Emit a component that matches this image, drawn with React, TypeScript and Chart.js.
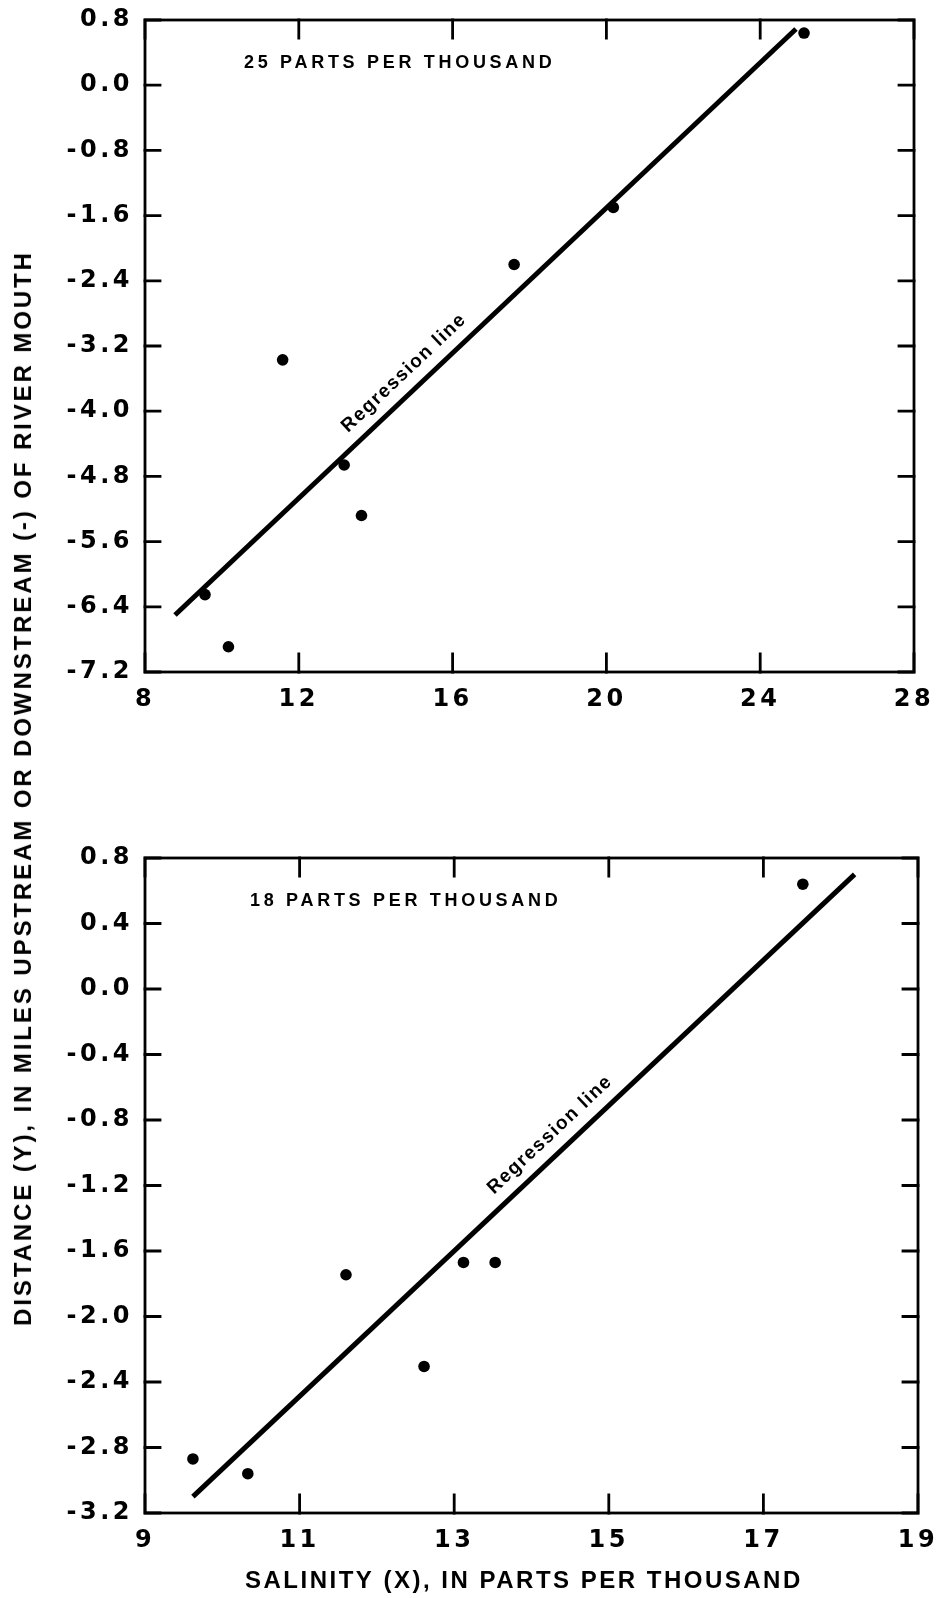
import React, { useEffect, useRef } from "react";
import { Chart, registerables } from "chart.js";

Chart.register(...registerables);

// ---- data: upper panel (25 parts per thousand) ----
const topSalinity = [25.14, 20.18, 17.6, 11.58, 13.18, 13.63, 9.56, 10.17];
const topDistance = [0.64, -1.5, -2.2, -3.37, -4.66, -5.28, -6.25, -6.89];
const topLineSalinity = [8.78, 24.93];
const topLineDistance = [-6.5, 0.69];
const topXTicks = [8, 12, 16, 20, 24, 28];
const topYTicks = [0.8, 0.0, -0.8, -1.6, -2.4, -3.2, -4.0, -4.8, -5.6, -6.4, -7.2];
const topTitle = "25 PARTS PER THOUSAND";
const topLabelAt = [14.74, -3.53];

// ---- data: lower panel (18 parts per thousand) ----
const bottomSalinity = [17.51, 11.6, 13.12, 13.53, 12.61, 9.62, 10.33];
const bottomDistance = [0.64, -1.745, -1.67, -1.67, -2.305, -2.87, -2.96];
const bottomLineSalinity = [9.62, 18.18];
const bottomLineDistance = [-3.1, 0.7];
const bottomXTicks = [9, 11, 13, 15, 17, 19];
const bottomYTicks = [0.8, 0.4, 0.0, -0.4, -0.8, -1.2, -1.6, -2.0, -2.4, -2.8, -3.2];
const bottomTitle = "18 PARTS PER THOUSAND";
const bottomLabelAt = [14.24, -0.89];

const regressionLabel = "Regression line";
const xAxisTitle = "SALINITY (X), IN PARTS PER THOUSAND";
const yAxisTitle = "DISTANCE (Y), IN MILES UPSTREAM OR DOWNSTREAM (-) OF RIVER MOUTH";

const INK = "#000";
const TEXT_FAMILY = "'Liberation Sans', Arial, sans-serif";
const TICK_FAMILY = "'DejaVu Sans', sans-serif";
const TICK_SPACING = "3.5px";

type PanelOpts = {
  xs: number[];
  ys: number[];
  lineXs: number[];
  lineYs: number[];
  xTicks: number[];
  yTicks: number[];
  title: string;
  titleDx: number;
  labelAt: number[];
  padding: { top: number; right: number; left: number; bottom: number };
  xAxisHeight: number;
  showXTitle: boolean;
};

function fmtY(v: number) {
  const n = Math.abs(v) < 1e-9 ? 0 : v;
  return n.toFixed(1);
}

function clearPad(s: any) {
  s.paddingLeft = 0;
  s.paddingRight = 0;
  s.paddingTop = 0;
  s.paddingBottom = 0;
}

function makePlugin(o: PanelOpts) {
  return {
    id: "frameAndText",
    beforeLayout(chart: any) {
      chart.ctx.letterSpacing = TICK_SPACING;
    },
    beforeDraw(chart: any) {
      chart.ctx.letterSpacing = TICK_SPACING;
    },
    beforeDatasetsDraw(chart: any) {
      const { ctx, chartArea: a, scales } = chart;
      ctx.save();
      ctx.strokeStyle = INK;
      ctx.lineWidth = 2.8;
      ctx.lineCap = "square";
      ctx.strokeRect(a.left, a.top, a.right - a.left, a.bottom - a.top);
      ctx.beginPath();
      for (const t of scales.x.ticks) {
        const px = scales.x.getPixelForValue(t.value);
        ctx.moveTo(px, a.bottom);
        ctx.lineTo(px, a.bottom - 18);
        ctx.moveTo(px, a.top);
        ctx.lineTo(px, a.top + 18);
      }
      for (const t of scales.y.ticks) {
        const py = scales.y.getPixelForValue(t.value);
        ctx.moveTo(a.left, py);
        ctx.lineTo(a.left + 15, py);
        ctx.moveTo(a.right, py);
        ctx.lineTo(a.right - 15, py);
      }
      ctx.stroke();
      ctx.restore();
    },
    afterDraw(chart: any) {
      const { ctx, chartArea: a, scales } = chart;
      ctx.save();
      ctx.fillStyle = INK;
      // panel title
      ctx.letterSpacing = "3.7px";
      ctx.font = `bold 18px ${TEXT_FAMILY}`;
      ctx.textAlign = "left";
      ctx.textBaseline = "alphabetic";
      ctx.fillText(o.title, a.left + o.titleDx, a.top + 48);
      // regression label, rotated along the line
      const x1 = scales.x.getPixelForValue(o.lineXs[0]);
      const y1 = scales.y.getPixelForValue(o.lineYs[0]);
      const x2 = scales.x.getPixelForValue(o.lineXs[1]);
      const y2 = scales.y.getPixelForValue(o.lineYs[1]);
      const ang = Math.atan2(y2 - y1, x2 - x1);
      const lx = scales.x.getPixelForValue(o.labelAt[0]);
      const ly = scales.y.getPixelForValue(o.labelAt[1]);
      ctx.translate(lx, ly);
      ctx.rotate(ang);
      ctx.letterSpacing = "1.5px";
      ctx.font = `bold 19px ${TEXT_FAMILY}`;
      ctx.textAlign = "center";
      ctx.textBaseline = "middle";
      ctx.fillText(regressionLabel, 0, 0);
      ctx.restore();
      if (o.showXTitle) {
        ctx.save();
        ctx.fillStyle = INK;
        ctx.letterSpacing = "2.5px";
        ctx.font = `bold 24px ${TEXT_FAMILY}`;
        ctx.textAlign = "left";
        ctx.textBaseline = "alphabetic";
        ctx.fillText(xAxisTitle, a.left + 100, a.bottom + 75);
        ctx.restore();
      }
    },
  };
}

function makeConfig(o: PanelOpts): any {
  const points = o.xs.map((x, i) => ({ x, y: o.ys[i] }));
  const line = o.lineXs.map((x, i) => ({ x, y: o.lineYs[i] }));
  return {
    type: "scatter",
    data: {
      datasets: [
        {
          label: "Regression line",
          data: line,
          showLine: true,
          borderColor: INK,
          borderWidth: 5,
          pointRadius: 0,
          borderCapStyle: "butt",
        },
        {
          label: "Observations",
          data: points,
          pointRadius: 5.8,
          pointBackgroundColor: INK,
          pointBorderWidth: 0,
          borderColor: INK,
        },
      ],
    },
    options: {
      responsive: false,
      animation: false,
      devicePixelRatio: 1,
      layout: { padding: o.padding },
      plugins: { legend: { display: false }, tooltip: { enabled: false } },
      scales: {
        x: {
          type: "linear",
          min: o.xTicks[0],
          max: o.xTicks[o.xTicks.length - 1],
          grid: { display: false, drawTicks: false },
          border: { display: false },
          afterBuildTicks: (s: any) => {
            s.ticks = o.xTicks.map((v) => ({ value: v }));
          },
          afterFit: (s: any) => {
            s.height = o.xAxisHeight;
            clearPad(s);
          },
          ticks: {
            autoSkip: false,
            maxRotation: 0,
            padding: 13,
            color: INK,
            font: { family: TICK_FAMILY, size: 24, weight: "bold" },
            callback: (v: any) => String(v),
          },
        },
        y: {
          type: "linear",
          min: o.yTicks[o.yTicks.length - 1],
          max: o.yTicks[0],
          grid: { display: false, drawTicks: false },
          border: { display: false },
          afterBuildTicks: (s: any) => {
            s.ticks = o.yTicks.slice().reverse().map((v) => ({ value: v }));
          },
          afterFit: (s: any) => {
            s.width = 145;
            clearPad(s);
          },
          ticks: {
            autoSkip: false,
            padding: 12,
            color: INK,
            font: { family: TICK_FAMILY, size: 24, weight: "bold" },
            callback: (v: any) => fmtY(Number(v)),
          },
        },
      },
    },
    plugins: [makePlugin(o)],
  };
}

export default function App() {
  const topRef = useRef<HTMLCanvasElement>(null);
  const bottomRef = useRef<HTMLCanvasElement>(null);

  useEffect(() => {
    const top = new Chart(
      topRef.current!,
      makeConfig({
        xs: topSalinity,
        ys: topDistance,
        lineXs: topLineSalinity,
        lineYs: topLineDistance,
        xTicks: topXTicks,
        yTicks: topYTicks,
        title: topTitle,
        titleDx: 99,
        labelAt: topLabelAt,
        padding: { top: 20, right: 25, left: 0, bottom: 0 },
        xAxisHeight: 58,
        showXTitle: false,
      })
    );
    const bottom = new Chart(
      bottomRef.current!,
      makeConfig({
        xs: bottomSalinity,
        ys: bottomDistance,
        lineXs: bottomLineSalinity,
        lineYs: bottomLineDistance,
        xTicks: bottomXTicks,
        yTicks: bottomYTicks,
        title: bottomTitle,
        titleDx: 105,
        labelAt: bottomLabelAt,
        padding: { top: 58, right: 21, left: 0, bottom: 0 },
        xAxisHeight: 85,
        showXTitle: true,
      })
    );
    return () => {
      top.destroy();
      bottom.destroy();
    };
  }, []);

  return (
    <div
      style={{
        position: "absolute",
        left: 0,
        top: 0,
        width: 939,
        height: 1598,
        overflow: "hidden",
        background: "#fff",
      }}
    >
      <canvas
        ref={topRef}
        width={939}
        height={730}
        style={{ position: "absolute", left: 0, top: 0, width: 939, height: 730 }}
      />
      <canvas
        ref={bottomRef}
        width={939}
        height={798}
        style={{ position: "absolute", left: 0, top: 800, width: 939, height: 798 }}
      />
      <div
        style={{
          position: "absolute",
          left: 23,
          top: 788,
          transform: "translate(-50%, -50%) rotate(-90deg)",
          whiteSpace: "nowrap",
          fontFamily: TEXT_FAMILY,
          fontWeight: "bold",
          fontSize: 24,
          letterSpacing: "2.9px",
          color: INK,
          lineHeight: 1,
        }}
      >
        {yAxisTitle}
      </div>
    </div>
  );
}
